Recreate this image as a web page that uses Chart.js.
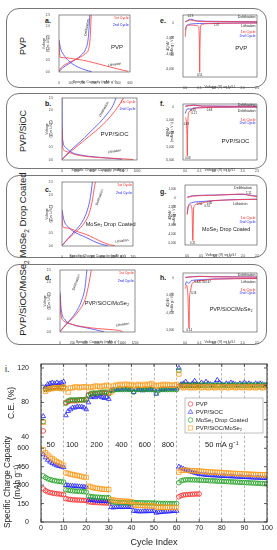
<!DOCTYPE html>
<html>
<head>
<meta charset="utf-8">
<script src="https://cdn.jsdelivr.net/npm/chart.js@4.4.1/dist/chart.umd.min.js"></script>
<style>
html,body{margin:0;padding:0;background:#fff;}
body{width:277px;height:550px;position:relative;overflow:hidden;font-family:'Liberation Sans',Arial,Helvetica,sans-serif;color:#222;}
.box{position:absolute;border:1px solid #777;border-radius:13px;box-sizing:border-box;}
.rl{position:absolute;white-space:nowrap;transform:translate(-50%,-50%) rotate(-90deg);font-size:9px;line-height:1;}
.pl{position:absolute;font-size:7px;font-weight:bold;line-height:1;}
canvas{position:absolute;display:block;}
</style>
</head>
<body>
<div class="box" style="left:6px;top:8px;width:261px;height:80px"></div>
<div class="box" style="left:6px;top:93px;width:261px;height:76px"></div>
<div class="box" style="left:6px;top:175px;width:261px;height:83px"></div>
<div class="box" style="left:6px;top:264px;width:261px;height:81px"></div>
<div class="rl" style="left:23px;top:46px">PVP</div>
<div class="rl" style="left:23px;top:131px">PVP/SiOC</div>
<div class="rl" style="left:24px;top:215px;font-size:9.5px">MoSe<sub style="font-size:6.5px">2</sub> Drop Coated</div>
<div class="rl" style="left:24px;top:298px;font-size:9.5px">PVP/SiOC/MoSe<sub style="font-size:6.5px">2</sub></div>
<div class="pl" style="left:45px;top:17px">a.</div>
<div class="pl" style="left:160px;top:17px">e.</div>
<div class="pl" style="left:45px;top:100px">b.</div>
<div class="pl" style="left:160px;top:100px">f.</div>
<div class="pl" style="left:45px;top:186px">c.</div>
<div class="pl" style="left:160px;top:188px">g.</div>
<div class="pl" style="left:45px;top:274px">d.</div>
<div class="pl" style="left:160px;top:274px">h.</div>
<div class="pl" style="left:5px;top:365px;font-size:9px;font-weight:normal">i.</div>
<script>
// ---------------- DATA ----------------
const _ = null;
// Panel i: cycle index
const cycleIndex = Array.from({length:100},(v,i)=>i+1);
const ceTicks = [40,60,80,100,120];
const capTicks = [0,150,300,450,600];
const seriesNames = ['PVP','PVP/SiOC','MoSe\u2082 Drop Coated','PVP/SiOC/MoSe\u2082'];
const rateLabels = ['50','100','200','400','600','800','50 mA g\u207B\u00B9'];
const rateCycles = [4.3,13.8,24.6,35.6,45.9,56.2,80];

const cePVP = [
47,96,97,97,98,98,98,98,98,98,
80,81,82,82,82,82,83,83,83,83,
89,90,90,90,90,91,91,91,91,91,
_,_,_,_,_,_,_,_,_,_,
_,_,_,_,_,_,_,_,_,_,
_,_,_,_,_,_,_,_,_,_,
99,100,100,100,100,100,100,100,100,100,
_,_,_,_,_,_,_,_,_,_,
_,_,_,_,_,_,_,_,_,_,
_,_,_,_,_,_,_,_,_,_];
const ceSiOC = [
64,98,101,102,103,102,103,102,103,104,
65,70,72,74,74,75,75,75,74,72,
80,86,87,86,88,87,86,85,86,84,
94,95,95,95,96,95,96,96,95,95,
92,95,95,95,94,95,95,95,95,95,
90,95,95,95,95,96,96,96,96,96,
120,101,102,104,101,100,102,105,101,100,
103,101,104,102,101,100,102,106,103,101,
100,102,101,103,102,101,100,102,101,103,
101,102,101,100,102,101,102,101,100,101];
const ceMoSe2 = [
58,95,96,96,97,97,97,97,97,97,
79,82,83,83,83,83,83,83,83,84,
88,90,91,91,91,91,92,92,92,90,
94,94,95,95,95,95,95,95,95,95,
92,95,95,95,95,95,95,95,95,95,
91,94,95,95,95,95,95,95,95,95,
117,100,100,100,100,100,100,100,100,100,
100,100,100,100,100,100,100,100,100,100,
100,100,100,100,100,100,100,100,100,100,
100,100,100,100,100,100,100,100,100,100];
const ceComp = [
57,93,95,96,96,97,97,97,96,98,
96,92,97,97,98,98,97,98,98,98,
97,98,98,99,99,98,99,99,100,99,
92,99,100,100,101,100,101,101,100,101,
99,100,101,100,100,101,100,101,102,100,
99,100,100,101,100,101,100,100,100,101,
113,98,97,98,98,97,98,97,98,98,
97,98,98,97,98,98,97,98,98,97,
98,98,97,98,98,97,98,98,97,98,
98,97,98,98,97,98,98,97,98,98];

const capPVP = [
270,255,245,240,236,232,230,228,225,222,
190,186,183,181,180,179,178,177,176,175,
165,162,160,159,158,157,156,155,155,154,
_,_,_,_,_,_,_,_,_,_,
_,_,_,_,_,_,_,_,_,_,
_,_,_,_,_,_,_,_,_,_,
205,215,220,222,224,225,226,227,228,228,
_,_,_,_,_,_,_,_,_,_,
_,_,_,_,_,_,_,_,_,_,
_,_,_,_,_,_,_,_,_,_];
const capSiOC = [
550,525,505,490,478,468,460,455,450,445,
300,298,296,294,292,290,289,288,286,285,
180,178,176,174,172,171,170,169,168,167,
120,118,120,122,121,120,122,123,121,122,
90,88,86,85,86,87,86,88,88,90,
75,78,80,82,84,85,86,88,89,90,
450,440,432,425,418,412,405,400,395,390,
388,385,383,382,380,379,378,377,376,375,
374,373,372,371,370,369,368,367,366,365,
364,363,362,361,360,360,359,358,357,356];
const capMoSe2 = [
375,362,352,345,340,336,333,330,328,325,
262,258,256,254,252,250,249,248,247,245,
210,207,205,203,202,201,200,199,198,197,
165,162,160,159,158,157,156,156,155,155,
158,157,157,156,156,155,155,155,154,154,
152,152,151,151,150,150,150,149,149,150,
320,335,340,343,344,344,343,343,342,341,
340,339,338,337,336,335,334,333,332,331,
330,329,328,327,326,325,324,323,322,321,
320,319,318,317,316,315,314,313,312,310];
const capComp = [
588,565,545,528,515,503,492,482,472,462,
400,395,390,386,382,378,374,370,366,362,
292,285,280,276,273,270,268,266,265,264,
182,178,175,173,171,170,169,168,167,166,
140,138,136,135,134,133,132,132,131,130,
122,121,120,120,119,119,118,118,118,118,
405,420,422,421,420,418,417,416,415,414,
412,411,410,408,407,406,405,404,403,402,
400,399,398,397,396,395,394,393,392,391,
390,389,388,387,386,386,385,385,384,384];

// Panels a-d: [capacity mAh/g, voltage V]
const aLith1 = [[0,1.35],[4,0.9],[10,0.65],[60,0.62],[120,0.58],[200,0.52],[300,0.4],[400,0.26],[500,0.13],[585,0.03]];
const aLith2 = [[0,1.4],[15,1.0],[40,0.75],[80,0.5],[130,0.3],[190,0.15],[250,0.05],[275,0.02]];
const aDelith1 = [[0,0.02],[20,0.2],[60,0.35],[120,0.5],[180,0.65],[220,0.8],[250,1.0],[262,1.4],[268,2.0],[272,2.5]];
const aDelith2 = [[0,0.02],[30,0.18],[80,0.35],[140,0.55],[190,0.75],[225,1.0],[245,1.4],[255,2.0],[260,2.5]];

const bLith1 = [[0,1.25],[3,0.8],[10,0.5],[50,0.35],[100,0.3],[200,0.2],[400,0.12],[600,0.08],[800,0.05],[950,0.02]];
const bLith2 = [[0,2.5],[2,1.5],[10,0.8],[50,0.5],[120,0.32],[250,0.2],[450,0.12],[650,0.07],[800,0.03]];
const bDelith1 = [[0,0.02],[100,0.3],[200,0.55],[300,0.8],[400,1.05],[500,1.3],[600,1.6],[700,1.95],[780,2.3],[820,2.5]];
const bDelith2 = [[0,0.02],[100,0.35],[200,0.62],[300,0.9],[400,1.2],[500,1.5],[600,1.85],[680,2.2],[720,2.5]];

const cLith1 = [[0,1.35],[5,0.8],[20,0.72],[80,0.68],[160,0.55],[240,0.45],[320,0.3],[400,0.15],[470,0.05],[520,0.02]];
const cLith2 = [[0,1.4],[20,1.0],[60,0.75],[120,0.55],[200,0.4],[280,0.25],[350,0.12],[420,0.04],[450,0.02]];
const cDelith1 = [[0,0.02],[80,0.35],[150,0.6],[220,0.9],[270,1.3],[300,1.8],[320,2.3],[330,2.5]];
const cDelith2 = [[0,0.02],[60,0.3],[130,0.6],[200,0.95],[250,1.4],[280,1.9],[300,2.5]];

const dLith1 = [[0,1.5],[10,0.8],[60,0.45],[200,0.3],[400,0.2],[600,0.14],[800,0.1],[950,0.06],[1000,0.02]];
const dLith2 = [[0,1.6],[20,0.9],[80,0.5],[200,0.3],[400,0.18],[550,0.1],[650,0.04],[700,0.02]];
const dDelith1 = [[0,0.02],[100,0.3],[200,0.55],[300,0.85],[400,1.3],[450,1.8],[480,2.2],[500,2.5]];
const dDelith2 = [[0,0.02],[100,0.32],[200,0.6],[280,0.9],[350,1.3],[400,1.8],[430,2.5]];

// Panels e-h: [voltage V, dQ/dV]
const eLith1 = [[0.01,-1800],[0.03,-900],[0.08,-400],[0.2,-300],[0.4,-350],[0.48,-600],[0.5,-3000],[0.51,-6400],[0.52,-3000],[0.55,-300],[0.8,-120],[1.5,-60],[2.5,-30]];
const eLith2 = [[0.01,-900],[0.05,-400],[0.15,-200],[0.5,-100],[1.0,-60],[2.5,-20]];
const eDelith1 = [[0.01,100],[0.19,350],[0.4,200],[1.0,150],[2.5,120]];
const eDelith2 = [[0.01,150],[0.19,450],[0.4,250],[1.07,180],[2.5,120]];

const fLith1 = [[0.01,-4000],[0.05,-6000],[0.07,-12000],[0.08,-18500],[0.09,-10000],[0.12,-2500],[0.19,-1500],[0.3,-600],[0.68,-300],[1.0,-150],[2.5,-50]];
const fLith2 = [[0.01,-2500],[0.05,-1200],[0.1,-700],[0.21,-900],[0.3,-400],[0.68,-250],[1.0,-100],[2.5,-40]];
const fDelith1 = [[0.01,200],[0.3,600],[0.6,300],[2.5,200]];
const fDelith2 = [[0.01,300],[0.3,700],[0.6,350],[2.5,250]];

const gLith1 = [[0.01,-1800],[0.03,-1100],[0.1,-700],[0.18,-1200],[0.21,-4700],[0.24,-1000],[0.4,-600],[0.5,-550],[0.74,-350],[0.8,-300],[1.2,-200],[2.5,-100]];
const gLith2 = [[0.01,-1700],[0.05,-900],[0.15,-500],[0.5,-350],[0.8,-280],[1.5,-150],[2.5,-80]];
const gDelith1 = [[0.01,100],[0.2,250],[1.0,350],[1.6,450],[2.0,500],[2.12,400],[2.5,200]];
const gDelith2 = [[0.01,150],[0.2,300],[1.0,380],[2.0,450],[2.5,250]];

const hLith1 = [[0.01,-3000],[0.05,-2000],[0.1,-5000],[0.14,-14500],[0.16,-5000],[0.18,-4000],[0.25,-1500],[0.42,-800],[0.5,-700],[0.67,-600],[1.0,-300],[2.5,-100]];
const hLith2 = [[0.01,-2000],[0.05,-1000],[0.14,-1500],[0.2,-800],[0.42,-500],[0.67,-400],[1.0,-200],[2.5,-80]];
const hDelith1 = [[0.01,200],[0.5,500],[1.0,400],[2.5,300]];
const hDelith2 = [[0.01,250],[0.5,550],[1.0,450],[2.5,350]];

// ---------------- RENDER ----------------
const FONT = "'Liberation Sans', Arial, Helvetica, sans-serif";
Chart.defaults.font.family = FONT;
Chart.defaults.color = '#333';
const RED = 'rgba(255,60,60,0.9)', BLUE = 'rgba(70,70,255,0.9)';

function makeCanvas(l,t,w,h){
  const c = document.createElement('canvas');
  c.width = w; c.height = h;
  c.style.left = l+'px'; c.style.top = t+'px';
  c.style.width = w+'px'; c.style.height = h+'px';
  document.body.appendChild(c);
  return c;
}
const toXY = a => a.map(p=>({x:p[0],y:p[1]}));
const range = (a,b,s) => { const r=[]; for(let v=a; v<=b+1e-9; v+=s) r.push(+v.toFixed(4)); return r; };

const framePlugin = {id:'frame', afterDatasetsDraw(chart, args, o){
  const a = chart.chartArea, ctx = chart.ctx;
  ctx.save(); ctx.strokeStyle = o.color||'#444'; ctx.lineWidth = o.width||0.6;
  ctx.strokeRect(a.left, a.top, a.right-a.left, a.bottom-a.top);
  ctx.restore();
}};
const annPlugin = {id:'ann', afterDatasetsDraw(chart, args, o){
  const ctx = chart.ctx, xs = chart.scales.x, ys = chart.scales.y;
  (o.items||[]).forEach(a=>{
    ctx.save();
    ctx.translate(xs.getPixelForValue(a.x), ys.getPixelForValue(a.y));
    if(a.r) ctx.rotate(a.r*Math.PI/180);
    ctx.font = a.s+'px '+FONT;
    ctx.fillStyle = a.c||'#222';
    ctx.textAlign = a.al||'center';
    ctx.textBaseline = 'middle';
    ctx.fillText(a.t,0,0);
    ctx.restore();
  });
}};

function small(rect, cfg){
  const [l,t,r,b] = rect, yw = 17, xh = 12;
  const cv = makeCanvas(l-yw-2, t-4, (r-l)+yw+6, (b-t)+xh+6);
  const sets = [[cfg.d[0],RED],[cfg.d[1],BLUE],[cfg.d[2],RED],[cfg.d[3],BLUE]];
  new Chart(cv, {
    type:'scatter',
    data:{datasets: sets.map(s=>({data:toXY(s[0]), borderColor:s[1], borderWidth:0.9, showLine:true, pointRadius:0, fill:false, cubicInterpolationMode:'monotone'}))},
    options:{
      responsive:false, animation:false, events:[],
      layout:{padding:{left:2,top:4,right:4,bottom:2}},
      plugins:{legend:{display:false}, tooltip:{enabled:false}, ann:{items:cfg.ann}, frame:{}},
      scales:{
        x:{type:'linear', min:cfg.xr[0], max:cfg.xr[1],
          afterBuildTicks:s=>{s.ticks = cfg.xt.map(v=>({value:v}));},
          ticks:{font:{size:3}, padding:1, maxRotation:0, autoSkip:false, callback:cfg.xf},
          grid:{display:false}, border:{display:false},
          title:{display:true, text:cfg.xtitle, font:{size:3.6}, padding:{top:1,bottom:0}},
          afterFit:s=>{s.height=xh; s.paddingLeft=0; s.paddingRight=0;}},
        y:{type:'linear', min:cfg.yr[0], max:cfg.yr[1],
          afterBuildTicks:s=>{s.ticks = cfg.yt.map(v=>({value:v}));},
          ticks:{font:{size:3}, padding:1, autoSkip:false, callback:cfg.yf},
          grid:{display:false}, border:{display:false},
          title:{display:true, text:cfg.ytitle, font:{size:3.4, lineHeight:1.25}, padding:{top:0,bottom:1}},
          afterFit:s=>{s.width=yw; s.paddingTop=0; s.paddingBottom=0;}}
      }
    },
    plugins:[framePlugin, annPlugin]
  });
}
const fV = v => v.toFixed(1);
const fN = v => v.toLocaleString('en-US');
const fC = v => String(v);
const vTitle = ['Voltage','(V vs Li/Li\u207A)'];
const dTitle = ['dQ/dV','(mAh g\u207B\u00B9 V\u207B\u00B9)'];
const xvTitle = 'Voltage (V) vs Li/Li\u207A';
const cyc = (x,y)=>[{x:x,y:y,t:'1st Cycle',c:'#ff2020',s:3.6,al:'right'},{x:x,y:y*0.88-0.02,t:'2nd Cycle',c:'#2020ff',s:3.6,al:'right'}];

small([59,15,130,72], {d:[aLith1,aLith2,aDelith1,aDelith2], xr:[0,600], yr:[0,2.5], xt:range(0,600,100), yt:range(0,2.5,0.5), xf:fC, yf:fV,
  xtitle:'Specific Capacity (mAh g\u207B\u00B9)', ytitle:vTitle,
  ann:[...cyc(590,2.35),{x:235,y:1.95,t:'Delithiation',s:3.4,r:-80},{x:470,y:0.33,t:'Lithiation',s:3.4,r:-8},{x:490,y:1.1,t:'PVP',s:6}]});
small([62,98,137,160], {d:[bLith1,bLith2,bDelith1,bDelith2], xr:[0,1000], yr:[0,2.5], xt:range(0,1000,200), yt:range(0,2.5,0.5), xf:fC, yf:fV,
  xtitle:'Specific Charge Capacity (mAh g\u207B\u00B9)', ytitle:vTitle,
  ann:[...cyc(980,2.35),{x:560,y:2.05,t:'Delithiation',s:3.4,r:-60},{x:700,y:0.35,t:'Lithiation',s:3.4,r:-8},{x:700,y:1.05,t:'PVP/SiOC',s:6}]});
small([62,182,133,246], {d:[cLith1,cLith2,cDelith1,cDelith2], xr:[0,700], yr:[0,2.5], xt:range(0,700,100), yt:range(0,2.5,0.5), xf:fC, yf:fV,
  xtitle:'Specific Charge Capacity (mAh g\u207B\u00B9)', ytitle:vTitle,
  ann:[...cyc(690,2.38),{x:370,y:1.9,t:'Delithiation',s:3.4,r:-70},{x:590,y:0.2,t:'Lithiation',s:3.4,r:-8},{x:480,y:0.85,t:'MoSe\u2082 Drop Coated',s:5.6}]});
small([60,270,135,332], {d:[dLith1,dLith2,dDelith1,dDelith2], xr:[0,1200], yr:[0,2.5], xt:range(0,1200,200), yt:range(0,2.5,0.5), xf:fC, yf:fV,
  xtitle:'Specific Capacity (mAh g\u207B\u00B9)', ytitle:vTitle,
  ann:[...cyc(1180,2.38),{x:260,y:2.0,t:'Delithiation',s:3.4,r:-70},{x:1000,y:0.3,t:'Lithiation',s:3.4,r:-8},{x:750,y:1.15,t:'PVP/SiOC/MoSe\u2082',s:5.6}]});

small([183,15,257,77], {d:[eLith1,eLith2,eDelith1,eDelith2], xr:[-0.07,2.5], yr:[-7000,1000], xt:range(0,2.5,0.5), yt:[0,-2000,-4000,-6000], xf:fV, yf:fN,
  xtitle:xvTitle, ytitle:dTitle,
  ann:[{x:2.45,y:700,t:'Delithiation',s:3.6,al:'right'},{x:2.45,y:-450,t:'Lithiation',s:3.6,al:'right'},
       {x:2.45,y:-1200,t:'1st Cycle',c:'#ff2020',s:3.6,al:'right'},{x:2.45,y:-1650,t:'2nd Cycle',c:'#2020ff',s:3.6,al:'right'},
       {x:1.95,y:-3300,t:'PVP',s:6},{x:0.19,y:800,t:'0.19',s:2.8},{x:1.1,y:-350,t:'1.07',s:2.8},{x:0.51,y:-6750,t:'0.51',s:2.8}]});
small([183,104,257,160], {d:[fLith1,fLith2,fDelith1,fDelith2], xr:[-0.07,2.5], yr:[-20000,1100], xt:range(0,2.5,0.5), yt:[0,-5000,-10000,-15000,-20000], xf:fV, yf:fN,
  xtitle:xvTitle, ytitle:dTitle,
  ann:[{x:2.45,y:600,t:'Delithiating',s:3.6,al:'right'},{x:2.45,y:-1500,t:'Delithiation',s:3.6,al:'right'},
       {x:2.45,y:-5000,t:'1st Cycle',c:'#ff2020',s:3.6,al:'right'},{x:2.45,y:-6200,t:'2nd Cycle',c:'#2020ff',s:3.6,al:'right'},
       {x:1.75,y:-13000,t:'PVP/SiOC',s:6},{x:0.28,y:-1200,t:'0.19',s:2.8},{x:0.32,y:-2200,t:'0.21',s:2.8},{x:0.85,y:-1300,t:'0.68',s:2.8},{x:0.05,y:-6500,t:'0.19',s:2.8},{x:0.1,y:-19200,t:'0.08',s:2.8}]});
small([185,185,257,245], {d:[gLith1,gLith2,gDelith1,gDelith2], xr:[-0.07,2.5], yr:[-5200,1500], xt:range(0,2.5,0.5), yt:[1000,0,-1000,-2000,-3000,-4000,-5000], xf:fV, yf:fN,
  xtitle:xvTitle, ytitle:dTitle,
  ann:[{x:2.0,y:1150,t:'Delithiation',s:3.6,al:'center'},{x:2.2,y:600,t:'2.12',s:2.8},{x:1.9,y:-650,t:'Lithiation',s:3.6,al:'center'},
       {x:2.45,y:-2200,t:'1st Cycle',c:'#ff2020',s:3.6,al:'right'},{x:2.45,y:-2600,t:'2nd Cycle',c:'#2020ff',s:3.6,al:'right'},
       {x:1.4,y:-3500,t:'MoSe\u2082 Drop Coated',s:5.4},{x:0.45,y:-650,t:'0.50',s:2.8},{x:0.8,y:-550,t:'0.80',s:2.8},{x:0.72,y:-850,t:'0.74',s:2.8},{x:0.21,y:-4950,t:'0.21',s:2.8}]});
small([183,273,257,332], {d:[hLith1,hLith2,hDelith1,hDelith2], xr:[-0.07,2.5], yr:[-15500,1500], xt:range(0,2.5,0.5), yt:[0,-5000,-10000,-15000], xf:fV, yf:fN,
  xtitle:xvTitle, ytitle:dTitle,
  ann:[{x:2.45,y:900,t:'Delithiation',s:3.6,al:'right'},{x:2.45,y:-1100,t:'Lithiation',s:3.6,al:'right'},
       {x:2.45,y:-3300,t:'1st Cycle',c:'#ff2020',s:3.6,al:'right'},{x:2.45,y:-4300,t:'2nd Cycle',c:'#2020ff',s:3.6,al:'right'},
       {x:1.6,y:-9000,t:'PVP/SiOC/MoSe\u2082',s:5.4},{x:0.42,y:-1300,t:'0.42',s:2.8},{x:0.6,y:-1300,t:'0.50',s:2.8},{x:0.8,y:-1300,t:'0.67',s:2.8},{x:0.3,y:-4300,t:'0.18',s:2.8},{x:0.15,y:-15000,t:'0.14',s:2.8}]});

// ---------------- PANEL i ----------------
const COLORS = ['#ff2a2a','#2020ff','#1f9e1f','#ff9a1a'];
const STYLES = ['circle','triangle','circle','rect'];
const RADII = [2.3,2.7,2.3,3.1];
const ceSets = [cePVP, ceSiOC, ceMoSe2, ceComp];
const capSets = [capPVP, capSiOC, capMoSe2, capComp];
const pts = vals => vals.map((v,i)=>({x:cycleIndex[i], y:v})).filter(p=>p.y!==null);
const ds = [];
[0,1,2,3].forEach(k=>{
  const base = {showLine:false, pointStyle:STYLES[k], pointRadius:RADII[k], pointBorderWidth:0.8,
    pointBorderColor:COLORS[k], borderColor:COLORS[k], pointBackgroundColor:'rgba(255,255,255,0)', backgroundColor:'rgba(255,255,255,0)', order:3-k};
  ds.push(Object.assign({label:seriesNames[k], data:pts(ceSets[k]), yAxisID:'yCE'}, base));
  ds.push(Object.assign({label:seriesNames[k]+' cap', data:pts(capSets[k]), yAxisID:'yCap'}, base));
});

const iPlugin = {id:'iDeco', afterDatasetsDraw(chart){
  const ctx = chart.ctx, a = chart.chartArea, xs = chart.scales.x, yc = chart.scales.yCE, yq = chart.scales.yCap;
  ctx.save();
  ctx.strokeStyle = '#333'; ctx.lineWidth = 1;
  ctx.strokeRect(a.left, a.top, a.right-a.left, a.bottom-a.top);
  ctx.lineWidth = 0.8;
  ctx.beginPath();
  xs.ticks.forEach(t=>{ const x = xs.getPixelForValue(t.value); ctx.moveTo(x,a.bottom); ctx.lineTo(x,a.bottom-3); ctx.moveTo(x,a.top); ctx.lineTo(x,a.top+3); });
  ceTicks.forEach(v=>{ const y = yc.getPixelForValue(v); ctx.moveTo(a.left,y); ctx.lineTo(a.left+3,y); ctx.moveTo(a.right,y); ctx.lineTo(a.right-3,y); });
  capTicks.forEach(v=>{ const y = yq.getPixelForValue(v); ctx.moveTo(a.left,y); ctx.lineTo(a.left+3,y); ctx.moveTo(a.right,y); ctx.lineTo(a.right-3,y); });
  ctx.stroke();
  // current density labels
  ctx.fillStyle = '#222'; ctx.font = '7.5px '+FONT; ctx.textAlign = 'center'; ctx.textBaseline = 'middle';
  rateLabels.forEach((t,i)=> ctx.fillText(t, xs.getPixelForValue(rateCycles[i]), yq.top+3));
  // legend
  const lx = 185, ly = 43, lw = 78, lh = 35;
  ctx.fillStyle = '#fff'; ctx.fillRect(lx,ly,lw,lh);
  ctx.strokeStyle = '#999'; ctx.lineWidth = 0.6; ctx.strokeRect(lx,ly,lw,lh);
  ctx.font = '5.8px '+FONT; ctx.textAlign = 'left';
  seriesNames.forEach((n,k)=>{
    const y = ly + 6 + k*8;
    ctx.strokeStyle = COLORS[k]; ctx.fillStyle = 'rgba(255,255,255,0)';
    Chart.helpers.drawPoint(ctx, {pointStyle:STYLES[k], radius:RADII[k], borderWidth:0.8, rotation:0}, lx+5.5, y);
    ctx.fillStyle = '#222';
    ctx.fillText(n, lx+11, y+0.3);
  });
  ctx.restore();
}};

const ic = makeCanvas(0,355,277,195);
new Chart(ic, {
  type:'scatter',
  data:{datasets:ds},
  options:{
    responsive:false, animation:false, events:[],
    layout:{padding:{left:1,top:9,right:10,bottom:2}},
    plugins:{legend:{display:false}, tooltip:{enabled:false}},
    scales:{
      x:{type:'linear', min:0, max:100,
        afterBuildTicks:s=>{s.ticks = range(0,100,10).map(v=>({value:v}));},
        ticks:{font:{size:7}, padding:2, maxRotation:0, autoSkip:false, color:'#222'},
        grid:{display:true, color:'#999', lineWidth:0.7, drawTicks:false},
        border:{display:false, dash:[2.5,2]},
        title:{display:true, text:'Cycle Index', font:{size:9}, color:'#222', padding:{top:3,bottom:0}},
        afterFit:s=>{s.height=26; s.paddingLeft=0; s.paddingRight=0;}},
      yCap:{type:'linear', position:'left', stack:'i', stackWeight:80, min:0, max:651,
        afterBuildTicks:s=>{s.ticks = capTicks.map(v=>({value:v}));},
        ticks:{font:{size:7}, padding:4, color:'#222'},
        grid:{display:false}, border:{display:false},
        title:{display:true, text:['Specific Charge Capacity','(mAh g\u207B\u00B9)'], font:{size:8.2, lineHeight:1.3}, color:'#222', padding:{top:1,bottom:0}},
        afterFit:s=>{s.width=40; s.paddingTop=0; s.paddingBottom=0;}},
      yCE:{type:'linear', position:'left', stack:'i', stackWeight:78, min:34.2, max:124.6,
        afterBuildTicks:s=>{s.ticks = ceTicks.map(v=>({value:v}));},
        ticks:{font:{size:7}, padding:4, color:'#222'},
        grid:{display:false}, border:{display:false},
        title:{display:true, text:'C.E. (%)', font:{size:8.5}, color:'#222', padding:{top:6,bottom:0}},
        afterFit:s=>{s.width=40; s.paddingTop=0; s.paddingBottom=0;}}
    }
  },
  plugins:[iPlugin]
});
</script>
</body>
</html>
